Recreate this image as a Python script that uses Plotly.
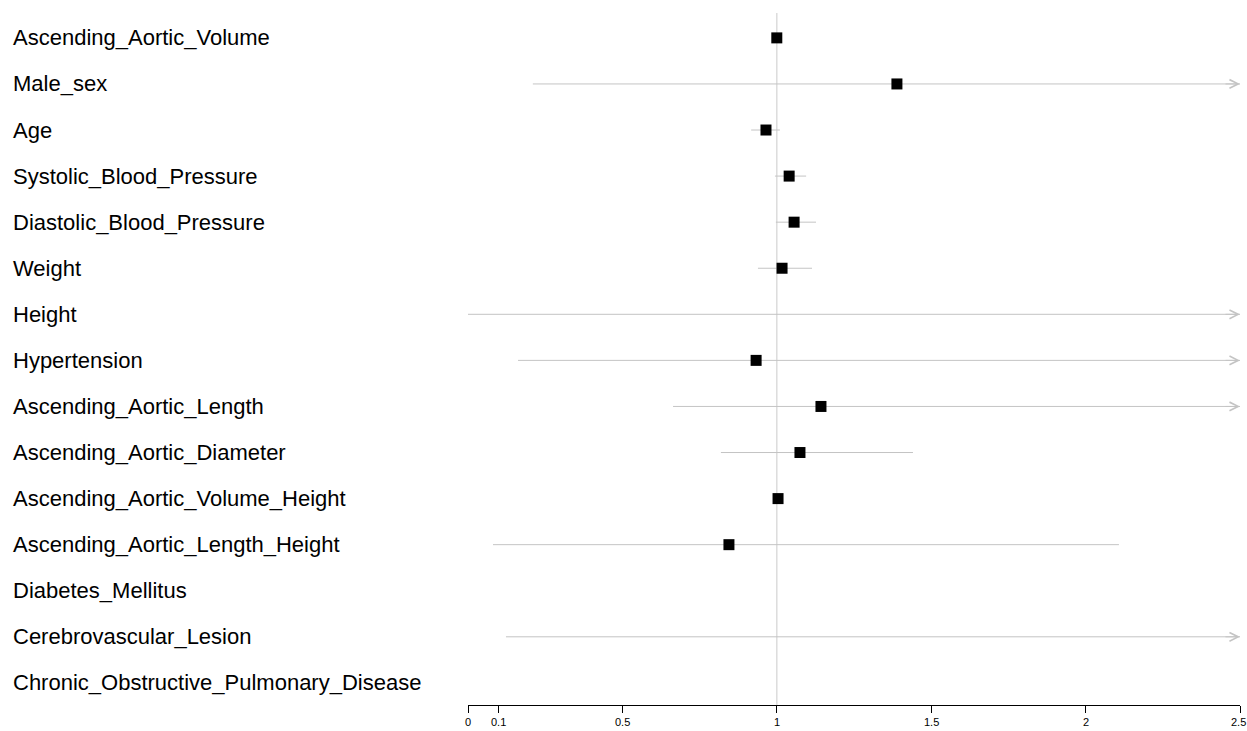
import plotly.graph_objects as go
import math

labels = [
    "Ascending_Aortic_Volume", "Male_sex", "Age", "Systolic_Blood_Pressure",
    "Diastolic_Blood_Pressure", "Weight", "Height", "Hypertension",
    "Ascending_Aortic_Length", "Ascending_Aortic_Diameter",
    "Ascending_Aortic_Volume_Height", "Ascending_Aortic_Length_Height",
    "Diabetes_Mellitus", "Cerebrovascular_Lesion",
    "Chronic_Obstructive_Pulmonary_Disease",
]
NA = float("nan")
odds_ratio = [1.00, 1.389, 0.965, 1.040, 1.056, 1.017, NA, 0.933, 1.143, 1.075, 1.004, 0.845, NA, NA, NA]
ci_lower   = [0.995, 0.21, 0.917, 0.994, 0.997, 0.939, 0.0, 0.162, 0.664, 0.819, 0.998, 0.081, NA, 0.123, NA]
ci_upper   = [1.005, 6.0, 1.010, 1.095, 1.127, 1.114, 9.0, 5.5, 4.2, 1.441, 1.010, 2.108, NA, 8.0, NA]

tick_vals = [0, 0.1, 0.5, 1, 1.5, 2, 2.5]
tick_text = ["0", "0.1", "0.5", "1", "1.5", "2", "2.5"]
x_min, x_max = 0.0, 2.5

W, H = 1247, 731
ml, mr, mt, mb = 468, 7, 13, 26
ci_color = "#c4c4c4"
tick_font = dict(family="Liberation Sans, Arial", size=11, color="black")

fig = go.Figure()
n = len(labels)
rows = list(range(n))

# CI lines
for i in rows:
    lo, hi = ci_lower[i], ci_upper[i]
    if math.isnan(lo) or math.isnan(hi):
        continue
    lo_c = max(lo, x_min)
    hi_c = min(hi, x_max)
    fig.add_trace(go.Scatter(x=[lo_c, hi_c], y=[i, i], mode="lines",
                             line=dict(color=ci_color, width=1),
                             hoverinfo="skip", showlegend=False))
    if hi > x_max:
        fig.add_annotation(x=x_max, y=i, xref="x", yref="y", ax=-16, ay=0,
                           showarrow=True, arrowhead=5, arrowsize=1.7, arrowwidth=1,
                           arrowcolor=ci_color, text="", standoff=0)

# points
px_x = [odds_ratio[i] for i in rows if not math.isnan(odds_ratio[i])]
px_y = [i for i in rows if not math.isnan(odds_ratio[i])]
fig.add_trace(go.Scatter(x=px_x, y=px_y, mode="markers",
                         marker=dict(symbol="square", size=11, color="black",
                                     line=dict(width=0)),
                         showlegend=False))

fig.add_vline(x=1, line=dict(color="#dcdcdc", width=1.5), layer="below")

plot_w = W - ml - mr
for i, lab in enumerate(labels):
    fig.add_annotation(x=(11 - ml) / plot_w, y=i, xref="paper", yref="y",
                       text=lab, showarrow=False, xanchor="left", yanchor="middle",
                       font=dict(family="Liberation Sans, Arial", size=22, color="black"))

# tick labels drawn as annotations under the axis
for tv, tt in zip(tick_vals, tick_text):
    is_last = tv == tick_vals[-1]
    fig.add_annotation(x=tv, y=0, xref="x", yref="paper", yanchor="top",
                       xanchor="right" if is_last else "center",
                       xshift=8 if is_last else 0, yshift=-9, showarrow=False,
                       text=tt, font=tick_font)

fig.update_layout(
    width=W, height=H, autosize=False,
    margin=dict(l=ml, r=mr, t=mt, b=mb),
    plot_bgcolor="white", paper_bgcolor="white",
    xaxis=dict(range=[x_min, x_max], tickvals=tick_vals, showticklabels=False,
               showgrid=False, zeroline=False, showline=True, linecolor="black",
               linewidth=1, ticks="outside", ticklen=7, tickcolor="black"),
    yaxis=dict(range=[n - 1 + 0.48, -0.54], showgrid=False, zeroline=False,
               showticklabels=False, showline=False),
)

fig.write_html("out.html", config={"displayModeBar": False, "responsive": False},
               post_script="document.body.style.margin='0';document.body.style.overflow='hidden';")
